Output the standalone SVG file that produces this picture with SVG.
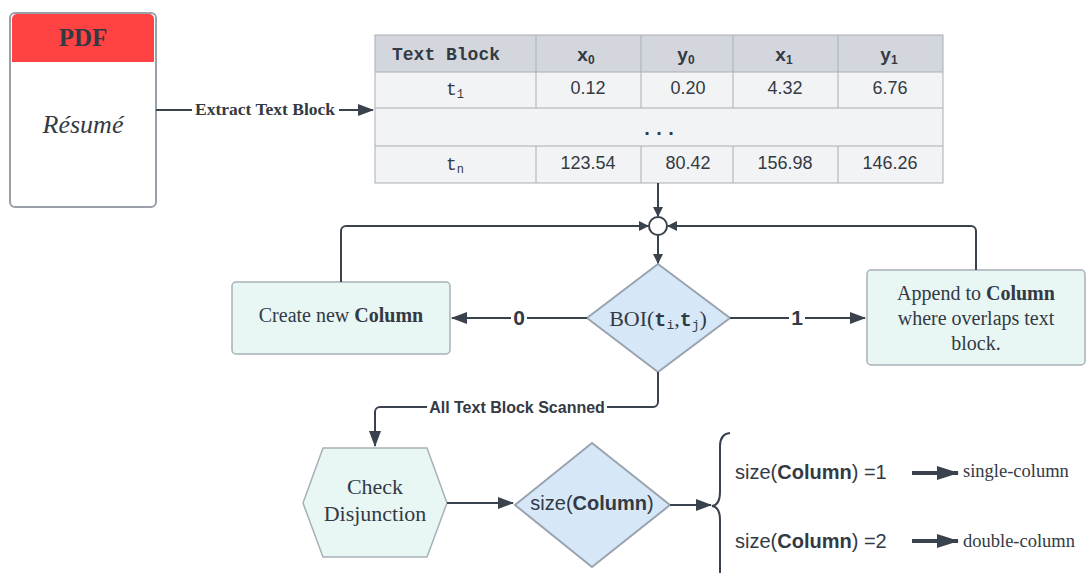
<svg xmlns="http://www.w3.org/2000/svg" width="1089" height="574" viewBox="0 0 1089 574">
<defs>
<style>
.ln{fill:none;stroke:#3a424d;stroke-width:2}
.thick{stroke-width:4}
.cell{stroke:#a9aeb5;stroke-width:1}
.serif{font-family:"Liberation Serif","DejaVu Serif",serif;fill:#333a44}
.sans{font-family:"Liberation Sans",Arial,sans-serif;fill:#333a44}
.mono{font-family:"Liberation Mono","DejaVu Sans Mono",monospace;fill:#333a44}
.node{fill:#e8f6f4;stroke:#a8b0b8;stroke-width:1.5}
.dia{fill:#d6e8f7;stroke:#9aa4b0;stroke-width:2}
</style>
<marker id="ah" viewBox="0 0 10 10" refX="9" refY="5" markerWidth="10" markerHeight="10" markerUnits="userSpaceOnUse" orient="auto">
<path d="M0,0 L10,5 L0,10 z" fill="#3a424d"/>
</marker>
<marker id="ahL" viewBox="0 0 16 12" refX="15" refY="6" markerWidth="16" markerHeight="12" markerUnits="userSpaceOnUse" orient="auto">
<path d="M0,0 L16,6 L0,12 z" fill="#3a424d"/>
</marker>
<marker id="ahT" viewBox="0 0 22 14" refX="21" refY="7" markerWidth="22" markerHeight="14" markerUnits="userSpaceOnUse" orient="auto">
<path d="M0,0 L22,7 L0,14 z" fill="#3a424d"/>
</marker>
</defs>
<rect width="1089" height="574" fill="#ffffff"/>

<g id="pdf">
<rect x="10" y="13" width="146" height="194" rx="5" fill="#ffffff" stroke="#9aa0a8" stroke-width="2"/>
<path d="M12,62 V19 a5,5 0 0 1 5,-5 H149 a5,5 0 0 1 5,5 V62 z" fill="#ff4242"/>
<text x="83" y="46" class="serif" font-size="25" font-weight="bold" text-anchor="middle">PDF</text>
<text x="83" y="133" class="serif" font-size="26" font-style="italic" text-anchor="middle">Résumé</text>
</g>

<g id="table">
<rect x="375" y="35" width="568" height="37" fill="#d3d7dd"/>
<rect x="375" y="72" width="568" height="111" fill="#f2f3f5"/>
<g class="cell">
<line x1="375" y1="72" x2="943" y2="72"/>
<line x1="375" y1="108" x2="943" y2="108"/>
<line x1="375" y1="146" x2="943" y2="146"/>
<line x1="536" y1="35" x2="536" y2="108"/>
<line x1="641" y1="35" x2="641" y2="108"/>
<line x1="733" y1="35" x2="733" y2="108"/>
<line x1="838" y1="35" x2="838" y2="108"/>
<line x1="536" y1="146" x2="536" y2="183"/>
<line x1="641" y1="146" x2="641" y2="183"/>
<line x1="733" y1="146" x2="733" y2="183"/>
<line x1="838" y1="146" x2="838" y2="183"/>
<rect x="375" y="35" width="568" height="148" fill="none"/>
</g>
<text x="446" y="60" class="mono" font-size="18" font-weight="bold" text-anchor="middle">Text Block</text>
<text x="586" y="61" class="sans" font-size="19" font-weight="bold" text-anchor="middle">x<tspan font-size="12" dy="3">0</tspan></text>
<text x="686" y="61" class="sans" font-size="19" font-weight="bold" text-anchor="middle">y<tspan font-size="12" dy="3">0</tspan></text>
<text x="784" y="61" class="sans" font-size="19" font-weight="bold" text-anchor="middle">x<tspan font-size="12" dy="3">1</tspan></text>
<text x="889" y="61" class="sans" font-size="19" font-weight="bold" text-anchor="middle">y<tspan font-size="12" dy="3">1</tspan></text>
<text x="455" y="95" class="mono" font-size="18" text-anchor="middle">t<tspan font-size="12" dy="3">1</tspan></text>
<text x="588" y="94" class="sans" font-size="18" text-anchor="middle">0.12</text>
<text x="688" y="94" class="sans" font-size="18" text-anchor="middle">0.20</text>
<text x="785" y="94" class="sans" font-size="18" text-anchor="middle">4.32</text>
<text x="890" y="94" class="sans" font-size="18" text-anchor="middle">6.76</text>
<text x="659" y="135" class="mono" font-size="20" font-weight="bold" text-anchor="middle">...</text>
<text x="455" y="170" class="mono" font-size="18" text-anchor="middle">t<tspan font-size="12" dy="3">n</tspan></text>
<text x="588" y="169" class="sans" font-size="18" text-anchor="middle">123.54</text>
<text x="688" y="169" class="sans" font-size="18" text-anchor="middle">80.42</text>
<text x="785" y="169" class="sans" font-size="18" text-anchor="middle">156.98</text>
<text x="890" y="169" class="sans" font-size="18" text-anchor="middle">146.26</text>
</g>

<g id="merge">
<circle cx="658" cy="226" r="9" fill="#ffffff" stroke="#3a424d" stroke-width="2"/>
</g>

<g id="boi">
<polygon points="658,264 730,318 658,372 587,318" class="dia"/>
<text x="658" y="326" class="serif" font-size="22" text-anchor="middle">BOI(<tspan class="mono" font-size="20" font-weight="bold">t</tspan><tspan class="mono" font-size="13" dy="3">i</tspan><tspan dy="-3">,</tspan><tspan class="mono" font-size="20" font-weight="bold">t</tspan><tspan class="mono" font-size="13" dy="3">j</tspan><tspan dy="-3">)</tspan></text>
</g>

<g id="create">
<rect x="232" y="282" width="218" height="72" rx="4" class="node"/>
<text x="341" y="322" class="serif" font-size="20" text-anchor="middle">Create new <tspan font-weight="bold">Column</tspan></text>
</g>

<g id="append">
<rect x="867" y="270" width="218" height="95" rx="4" class="node"/>
<text x="976" y="300" class="serif" font-size="20" text-anchor="middle">Append to <tspan font-weight="bold">Column</tspan></text>
<text x="976" y="325" class="serif" font-size="20" text-anchor="middle">where overlaps text</text>
<text x="976" y="350" class="serif" font-size="20" text-anchor="middle">block.</text>
</g>

<g id="check">
<polygon points="303,503 323,448 427,448 447,503 427,557 323,557" class="node"/>
<text x="375" y="494" class="serif" font-size="22" text-anchor="middle">Check</text>
<text x="375" y="521" class="serif" font-size="22" text-anchor="middle">Disjunction</text>
</g>

<g id="size">
<polygon points="592,443 670,505 592,567 515,505" class="dia"/>
<text x="592" y="510" class="sans" font-size="20" text-anchor="middle">size(<tspan font-weight="bold">Column</tspan>)</text>
</g>

<g id="brace">
<path d="M730,433 Q720,434 720,446 V492 Q720,505 712,506 Q720,507 720,520 V573" class="ln"/>
</g>

<g id="outcomes">
<text x="735" y="479" class="sans" font-size="20">size(<tspan font-weight="bold">Column</tspan>) =1</text>
<text x="963" y="477" class="serif" font-size="18.5">single-column</text>
<text x="735" y="548" class="sans" font-size="20">size(<tspan font-weight="bold">Column</tspan>) =2</text>
<text x="963" y="547" class="serif" font-size="18.5">double-column</text>
</g>

<g id="connectors">
<line x1="156" y1="110" x2="373" y2="110" class="ln" marker-end="url(#ahL)"/>
<rect x="192" y="99" width="147" height="20" fill="#ffffff"/>
<text x="265" y="115" class="serif" font-size="17.5" font-weight="bold" text-anchor="middle">Extract Text Block</text>

<line x1="658" y1="183" x2="658" y2="216" class="ln" marker-end="url(#ah)"/>
<line x1="658" y1="235" x2="658" y2="263" class="ln" marker-end="url(#ah)"/>
<path d="M341,282 V231 a5,5 0 0 1 5,-5 H648" class="ln" marker-end="url(#ah)"/>
<path d="M976,270 V231 a5,5 0 0 0 -5,-5 H668" class="ln" marker-end="url(#ah)"/>

<line x1="587" y1="318" x2="452" y2="318" class="ln" marker-end="url(#ahL)"/>
<rect x="511" y="305" width="16" height="24" fill="#ffffff"/>
<text x="519" y="325" class="sans" font-size="21" font-weight="bold" text-anchor="middle">0</text>

<line x1="730" y1="318" x2="865" y2="318" class="ln" marker-end="url(#ahL)"/>
<rect x="789" y="305" width="16" height="24" fill="#ffffff"/>
<text x="797" y="325" class="sans" font-size="21" font-weight="bold" text-anchor="middle">1</text>

<path d="M658,372 V402 a5,5 0 0 1 -5,5 H380 a5,5 0 0 0 -5,5 V446" class="ln" marker-end="url(#ahL)"/>
<rect x="427" y="398" width="180" height="18" fill="#ffffff"/>
<text x="517" y="413" class="sans" font-size="16" font-weight="bold" text-anchor="middle">All Text Block Scanned</text>

<line x1="447" y1="503" x2="513" y2="503" class="ln" marker-end="url(#ahL)"/>
<line x1="670" y1="505" x2="711" y2="505" class="ln" marker-end="url(#ahL)"/>

<line x1="912" y1="473" x2="958" y2="473" class="ln thick" marker-end="url(#ahT)"/>
<line x1="912" y1="541" x2="958" y2="541" class="ln thick" marker-end="url(#ahT)"/>
</g>
</svg>
